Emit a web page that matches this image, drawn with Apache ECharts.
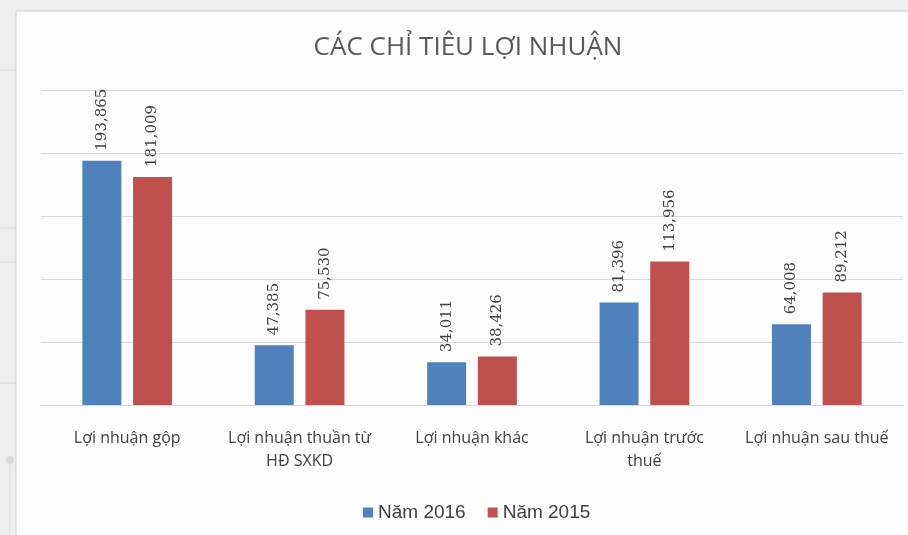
<!DOCTYPE html>
<html>
<head>
<meta charset="utf-8">
<script src="https://cdn.jsdelivr.net/npm/echarts@6/dist/echarts.min.js"></script>
<style>
  html, body { margin: 0; padding: 0; background: #eeeeee; }
  #main { width: 908px; height: 535px; }
</style>
</head>
<body>
<div id="main"></div>
<script>
// Các chỉ tiêu lợi nhuận
const categories = ['Lợi nhuận gộp', 'Lợi nhuận thuần từ\nHĐ SXKD', 'Lợi nhuận khác', 'Lợi nhuận trước\nthuế', 'Lợi nhuận sau thuế']
const nam2016 = [193865, 47385, 34011, 81396, 64008]
const nam2015 = [181009, 75530, 38426, 113956, 89212]
const seriesNames = ['Năm 2016', 'Năm 2015']

const myChart = echarts.init(document.getElementById('main'))

const labelOpt = {
  show: true,
  position: 'top',
  rotate: 90,
  align: 'left',
  verticalAlign: 'middle',
  distance: 10,
  fontFamily: 'DejaVu Serif',
  fontSize: 15,
  color: '#404040',
  formatter: p => p.value.toLocaleString('en-US')
}

const option = {
  backgroundColor: '#eeeeee',
  animation: false,
  graphic: [
    // khung trắng của biểu đồ
    { type: 'rect', z: -10, shape: { x: 16, y: 11, width: 900, height: 540 },
      style: { fill: '#fdfdfd', stroke: '#d0d0d0', lineWidth: 1 } },
    // vài đường trang trí bên trái
    { type: 'line', z: -11, shape: { x1: 0, y1: 70, x2: 16, y2: 70 }, style: { stroke: '#dcdcdc' } },
    { type: 'line', z: -11, shape: { x1: 0, y1: 228, x2: 16, y2: 228 }, style: { stroke: '#dcdcdc' } },
    { type: 'line', z: -11, shape: { x1: 0, y1: 262, x2: 16, y2: 262 }, style: { stroke: '#dcdcdc' } },
    { type: 'line', z: -11, shape: { x1: 0, y1: 383, x2: 16, y2: 383 }, style: { stroke: '#dcdcdc' } },
    { type: 'line', z: -11, shape: { x1: 10, y1: 465, x2: 10, y2: 535 }, style: { stroke: '#dcdcdc' } },
    { type: 'circle', z: -11, shape: { cx: 10, cy: 460, r: 4 }, style: { fill: '#dcdcdc' } }
  ],
  title: {
    text: 'CÁC CHỈ TIÊU LỢI NHUẬN',
    left: 463,
    textAlign: 'center',
    top: 30,
    textStyle: { fontFamily: 'Open Sans', fontWeight: 'normal', fontSize: 26, color: '#595959' }
  },
  legend: {
    data: seriesNames,
    left: 358,
    top: 498,
    itemWidth: 10,
    itemHeight: 10,
    itemGap: 22,
    icon: 'rect',
    textStyle: { fontFamily: 'Liberation Sans', fontSize: 19, color: '#404040' }
  },
  grid: { left: 41, right: 5, top: 90, bottom: 130 },
  xAxis: {
    type: 'category',
    data: categories,
    axisLine: { show: true, lineStyle: { color: '#d9d9d9' } },
    axisTick: { show: false },
    axisLabel: {
      interval: 0,
      margin: 22,
      fontFamily: 'Open Sans',
      fontSize: 16,
      lineHeight: 23,
      color: '#404040'
    }
  },
  yAxis: {
    type: 'value',
    min: 0,
    max: 250000,
    interval: 50000,
    axisLabel: { show: false },
    axisLine: { show: false },
    axisTick: { show: false },
    splitLine: { lineStyle: { color: '#d9d9d9' } }
  },
  series: [{
    name: seriesNames[0],
    type: 'bar',
    data: nam2016,
    barWidth: 39,
    barGap: '30%',
    itemStyle: { color: '#4f81bd' },
    label: labelOpt
  }, {
    name: seriesNames[1],
    type: 'bar',
    data: nam2015,
    barWidth: 39,
    itemStyle: { color: '#c0504d' },
    label: labelOpt
  }]
}

myChart.setOption(option)
</script>
</body>
</html>
